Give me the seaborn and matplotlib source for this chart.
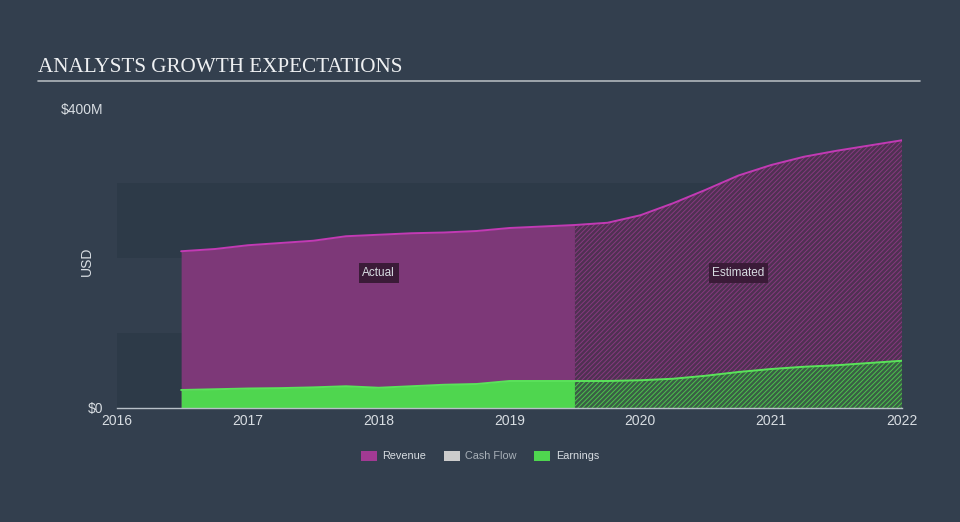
import numpy as np
import matplotlib
matplotlib.use("Agg")
import matplotlib.pyplot as plt
import seaborn as sns
from matplotlib.patches import Patch

# --- data (USD millions) ---
act_x = [2016.49, 2016.75, 2017.0, 2017.25, 2017.5, 2017.75, 2018.0, 2018.25, 2018.5, 2018.75, 2019.0, 2019.25, 2019.5]
rev_act = [209, 212, 217, 220, 223, 229, 231, 233, 234, 236, 240, 242, 244]
earn_act = [24, 25, 26, 26.5, 27.5, 29, 27, 29, 31, 32, 36, 36, 36]

est_x = [2019.5, 2019.75, 2020.0, 2020.25, 2020.5, 2020.75, 2021.0, 2021.25, 2021.5, 2021.75, 2022.0]
rev_est = [244, 247, 257, 273, 291, 310, 324, 335, 343, 350, 357]
earn_est = [36, 36, 37, 39, 43, 48, 52, 55, 57, 60, 63]

years = [2016, 2017, 2018, 2019, 2020, 2021, 2022]
legend_names = ["Revenue", "Cash Flow", "Earnings"]

bg = "#333f4e"
band = "#2d3a48"
rev_line, rev_fill, rev_est_fill = "#c23ab4", "#7d3878", "#4f3152"
earn_line, earn_fill, earn_est_fill = "#5ae35a", "#4fd64f", "#3a5e45"
txt = "#d8dde2"

sns.set_style("dark")
plt.rcParams["font.family"] = ["Liberation Sans", "DejaVu Sans"]

fig = plt.figure(figsize=(9.6, 5.22), dpi=100, facecolor=bg)
ax = fig.add_axes([0.1219, 0.2184, 0.8177, 0.5747])
ax.set_facecolor(bg)

# alternating background bands
for lo, hi in [(0, 100), (200, 300)]:
    ax.axhspan(lo, hi, color=band, lw=0, zorder=0)

# actual areas
ax.fill_between(act_x, 0, rev_act, color=rev_fill, lw=0, zorder=1)
ax.fill_between(act_x, 0, earn_act, color=earn_fill, lw=0, zorder=2)

# estimated areas (hatched)
plt.rcParams["hatch.linewidth"] = 0.7
ax.fill_between(est_x, 0, rev_est, facecolor=rev_est_fill, edgecolor="#86397f",
                hatch="///////", lw=0, zorder=1)
ax.fill_between(est_x, 0, earn_est, facecolor=earn_est_fill, edgecolor="#4cc24c",
                hatch="///////", lw=0, zorder=2)

# lines through seaborn
sns.lineplot(x=act_x + est_x[1:], y=rev_act + rev_est[1:], color=rev_line, lw=1.4, ax=ax, zorder=3)
sns.lineplot(x=act_x + est_x[1:], y=earn_act + earn_est[1:], color=earn_line, lw=1.4, ax=ax, zorder=3)

ax.set_xlim(2016, 2022)
ax.set_ylim(0, 400)
ax.set_xticks(years)
ax.set_xticklabels([str(y) for y in years], color=txt, fontsize=10)
ax.set_yticks([0, 400])
ax.set_yticklabels(["$0", "$400M"], color=txt, fontsize=10)
ax.tick_params(axis="x", length=6, width=1, color="#b8c0c8", pad=-2, direction="out")
ax.tick_params(axis="y", length=0, pad=10)
ax.set_ylabel("USD", color=txt, fontsize=10)
ax.yaxis.set_label_coords(-0.03, 0.49)
ax.set_xlabel("")
ax.grid(False)
for s in ["top", "right", "left"]:
    ax.spines[s].set_visible(False)
ax.spines["bottom"].set_color("#b8c0c8")
ax.spines["bottom"].set_linewidth(1)
ax.spines["bottom"].set_zorder(5)

# region labels
box = dict(boxstyle="square,pad=0.3", facecolor="#3b1b38", edgecolor="none")
ax.text(2018.0, 180, "Actual", ha="center", va="center", color=txt, fontsize=8.5, bbox=box, zorder=6)
ax.text(2020.75, 180, "Estimated", ha="center", va="center", color=txt, fontsize=8.5, bbox=box, zorder=6)

# title
fig.text(38 / 960, 1 - 67 / 522, "ANALYSTS GROWTH EXPECTATIONS", color="#eef0f2",
         fontsize=15.2, family=["Liberation Serif", "DejaVu Serif"], va="center", ha="left")
fig.add_artist(plt.Line2D([38 / 960, 920 / 960], [1 - 81 / 522, 1 - 81 / 522],
                          color="#b0b6bc", lw=1.2))

# legend
handles = [Patch(facecolor="#a23a93", edgecolor="none"),
           Patch(facecolor="#cccccc", edgecolor="none"),
           Patch(facecolor=earn_fill, edgecolor="none")]
leg = fig.legend(handles, legend_names, loc="center", bbox_to_anchor=(0.5, 1 - 456 / 522),
                 ncol=3, frameon=False, fontsize=7.8, handlelength=1.5, handleheight=1.1,
                 columnspacing=1.6, handletextpad=0.5)
for t, c in zip(leg.get_texts(), [txt, "#a8b0b8", txt]):
    t.set_color(c)

fig.savefig("out.png", dpi=100, facecolor=bg)
